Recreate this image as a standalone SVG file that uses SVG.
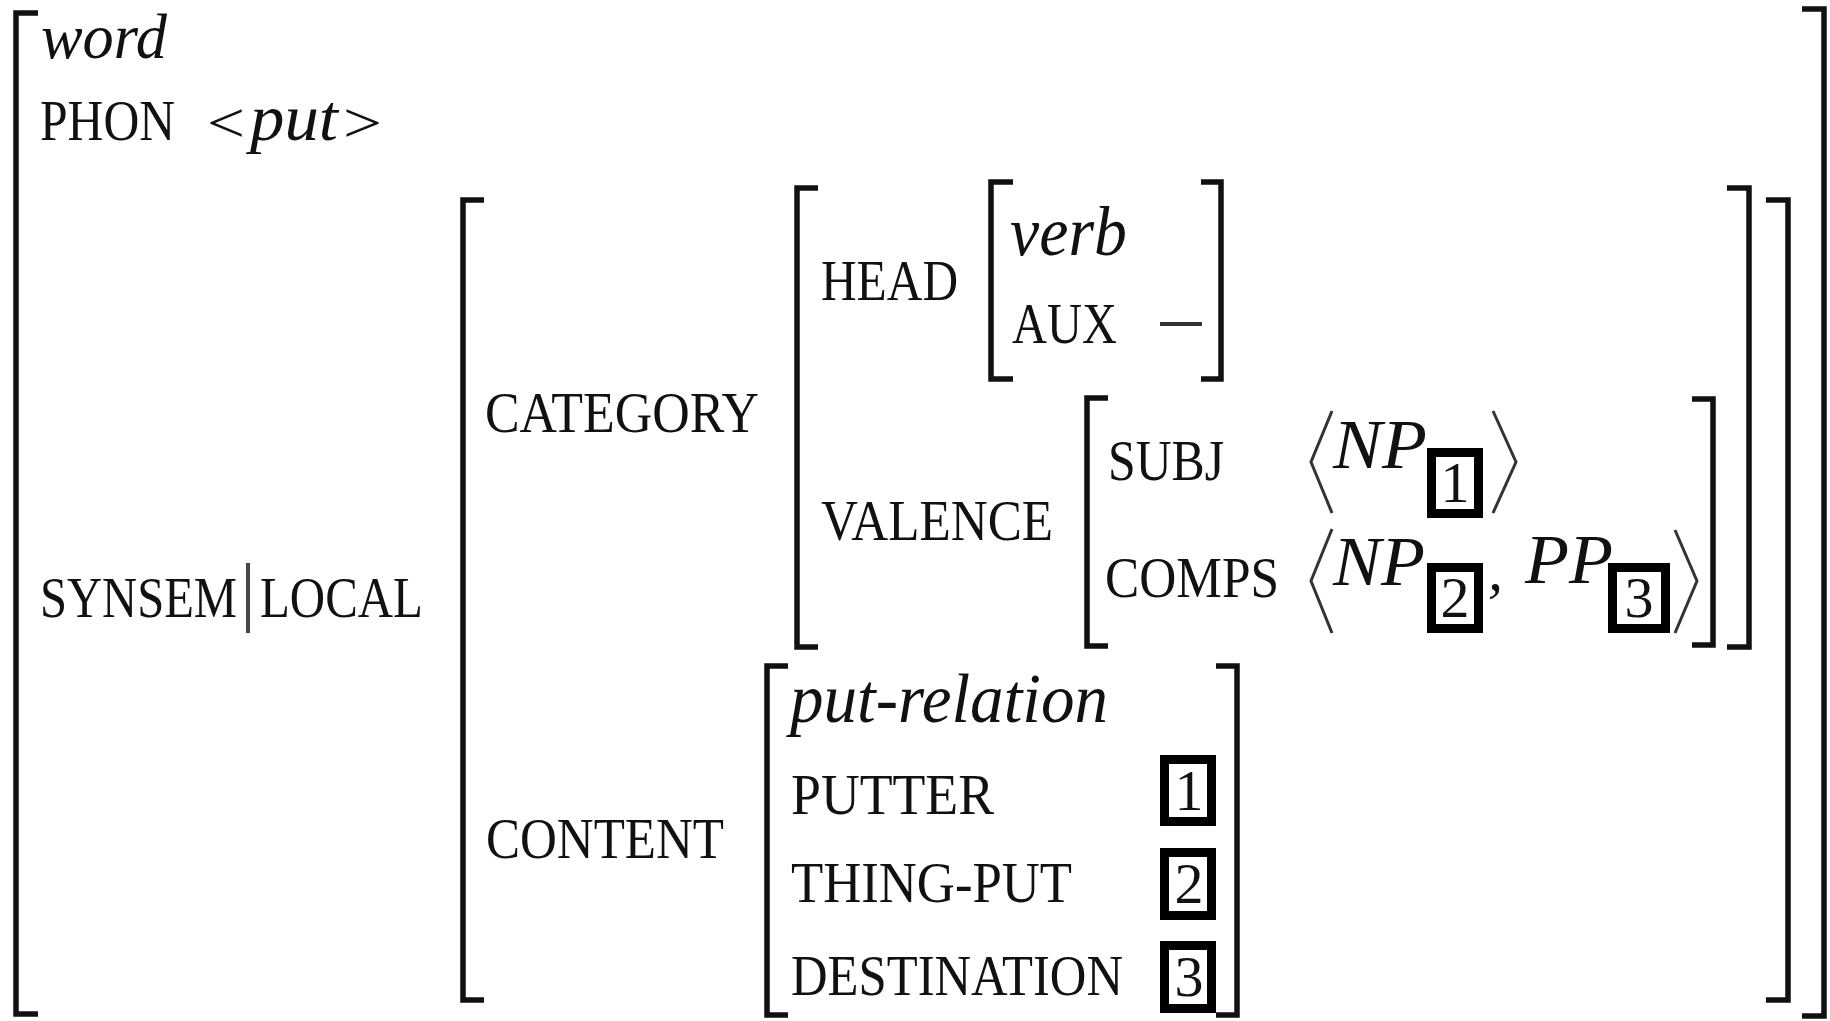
<svg xmlns="http://www.w3.org/2000/svg" width="1830" height="1021" viewBox="0 0 1830 1021">
  <style>
    .bk { fill: none; stroke: #111; stroke-width: 5.5; stroke-linejoin: miter; stroke-linecap: butt; }
    .ang { fill: none; stroke: #333; stroke-width: 3; stroke-linejoin: miter; }
    .box { fill: #fff; stroke: #000; stroke-width: 9; }
    .f { font-family: "Liberation Serif", "Times New Roman", serif; fill: #111; }
    .rm { font-size: 56px; }
    .it { font-size: 70px; font-style: italic; }
    .tag { font-size: 58px; text-anchor: middle; }
  </style>
  <rect width="1830" height="1021" fill="#fff"/>

  <!-- outermost matrix: word -->
  <g id="word-avm">
    <path class="bk" d="M38,13 H16 V1014 H38"/>
    <path class="bk" d="M1802,9 H1824 V1016 H1802"/>
    <text class="f it" x="41" y="58" textLength="126" lengthAdjust="spacingAndGlyphs" style="font-size:64px">word</text>
    <text class="f rm" x="40" y="140" textLength="135" lengthAdjust="spacingAndGlyphs">PHON</text>
    <text class="f rm" x="207" y="142" textLength="38" lengthAdjust="spacingAndGlyphs">&lt;</text>
    <text class="f it" x="250" y="140" textLength="88" lengthAdjust="spacingAndGlyphs" style="font-size:66px">put</text>
    <text class="f rm" x="343" y="142" textLength="39" lengthAdjust="spacingAndGlyphs">&gt;</text>
    <text class="f rm" x="40" y="617" textLength="197" lengthAdjust="spacingAndGlyphs">SYNSEM</text>
    <line x1="248" y1="563" x2="248" y2="633" stroke="#444" stroke-width="4"/>
    <text class="f rm" x="260" y="617" textLength="163" lengthAdjust="spacingAndGlyphs">LOCAL</text>
  </g>

  <!-- LOCAL value -->
  <g id="local-avm">
    <path class="bk" d="M484,200 H463 V1000 H484"/>
    <path class="bk" d="M1766,200 H1788 V1000 H1766"/>
    <text class="f rm" x="485" y="432" textLength="274" lengthAdjust="spacingAndGlyphs">CATEGORY</text>
    <text class="f rm" x="486" y="858" textLength="238" lengthAdjust="spacingAndGlyphs">CONTENT</text>
  </g>

  <!-- CATEGORY value -->
  <g id="category-avm">
    <path class="bk" d="M818,188 H797 V647 H818"/>
    <path class="bk" d="M1727,188 H1749 V647 H1727"/>
    <text class="f rm" x="821" y="300" textLength="137" lengthAdjust="spacingAndGlyphs">HEAD</text>
    <text class="f rm" x="821" y="540" textLength="232" lengthAdjust="spacingAndGlyphs">VALENCE</text>
  </g>

  <!-- HEAD value -->
  <g id="head-avm">
    <path class="bk" d="M1013,182 H991 V379 H1013"/>
    <path class="bk" d="M1201,182 H1221 V379 H1201"/>
    <text class="f it" x="1010" y="255" textLength="117" lengthAdjust="spacingAndGlyphs">verb</text>
    <text class="f rm" x="1012" y="343" textLength="105" lengthAdjust="spacingAndGlyphs">AUX</text>
    <line x1="1160" y1="324" x2="1202" y2="324" stroke="#333" stroke-width="4"/>
  </g>

  <!-- VALENCE value -->
  <g id="valence-avm">
    <path class="bk" d="M1108,398 H1087 V646 H1108"/>
    <path class="bk" d="M1692,399 H1713 V645 H1692"/>
    <text class="f rm" x="1108" y="480" textLength="116" lengthAdjust="spacingAndGlyphs">SUBJ</text>
    <text class="f rm" x="1105" y="597" textLength="174" lengthAdjust="spacingAndGlyphs">COMPS</text>

    <!-- SUBJ list -->
    <polyline class="ang" points="1332,411 1311,462 1332,513"/>
    <text class="f it" x="1333" y="468" textLength="94" lengthAdjust="spacingAndGlyphs">NP</text>
    <rect class="box" x="1431.5" y="452.5" width="47" height="61"/>
    <text class="f tag" x="1455" y="502">1</text>
    <polyline class="ang" points="1493,411 1516,462 1493,513"/>

    <!-- COMPS list -->
    <polyline class="ang" points="1332,529 1311,581 1332,633"/>
    <text class="f it" x="1333" y="585" textLength="92" lengthAdjust="spacingAndGlyphs">NP</text>
    <rect class="box" x="1431.5" y="567.5" width="47" height="61"/>
    <text class="f tag" x="1455" y="617">2</text>
    <text class="f it" x="1488" y="590" style="font-size:60px">,</text>
    <text class="f it" x="1525" y="583" textLength="88" lengthAdjust="spacingAndGlyphs">PP</text>
    <rect class="box" x="1612.5" y="567.5" width="53" height="61"/>
    <text class="f tag" x="1639" y="617">3</text>
    <polyline class="ang" points="1675,530 1697,581 1675,633"/>
  </g>

  <!-- CONTENT value -->
  <g id="content-avm">
    <path class="bk" d="M788,666 H767 V1015 H788"/>
    <path class="bk" d="M1216,666 H1237 V1015 H1216"/>
    <text class="f it" x="790" y="722" textLength="318" lengthAdjust="spacingAndGlyphs">put-relation</text>
    <text class="f rm" x="791" y="814" textLength="203" lengthAdjust="spacingAndGlyphs">PUTTER</text>
    <text class="f rm" x="791" y="902" textLength="281" lengthAdjust="spacingAndGlyphs">THING-PUT</text>
    <text class="f rm" x="791" y="995" textLength="332" lengthAdjust="spacingAndGlyphs">DESTINATION</text>
    <rect class="box" x="1164.5" y="759.5" width="47" height="62"/>
    <text class="f tag" x="1189" y="810">1</text>
    <rect class="box" x="1164.5" y="852.5" width="47" height="63"/>
    <text class="f tag" x="1189" y="903">2</text>
    <rect class="box" x="1164.5" y="945.5" width="47" height="63"/>
    <text class="f tag" x="1189" y="996">3</text>
  </g>
</svg>
